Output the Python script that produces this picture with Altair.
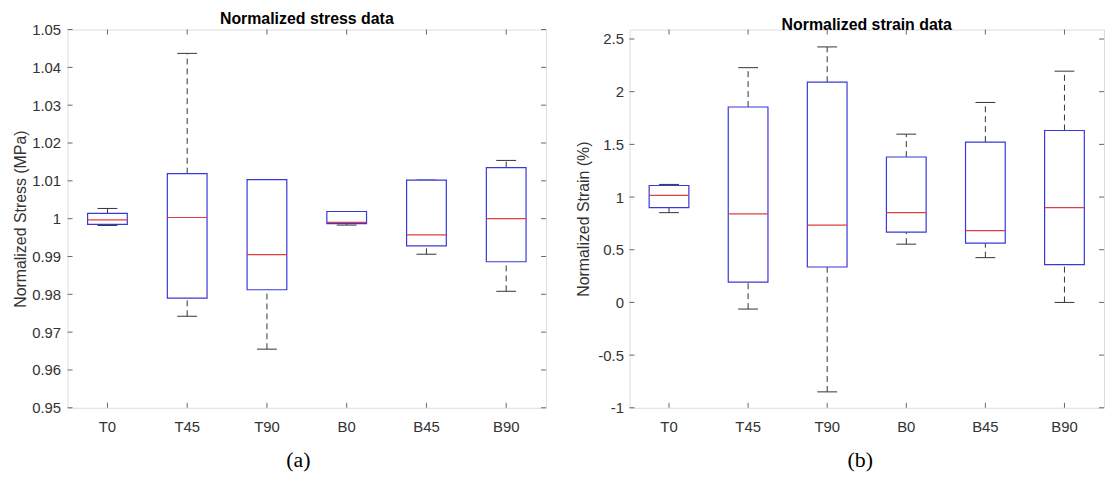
import altair as alt
import pandas as pd

categories = ["T0", "T45", "T90", "B0", "B45", "B90"]

# Normalized stress (MPa)
stress_lower = [0.9982, 0.9742, 0.9655, 0.9983, 0.9906, 0.9808]
stress_q1 = [0.9985, 0.9790, 0.9812, 0.9987, 0.9928, 0.9886]
stress_median = [0.9997, 1.0003, 0.9905, 0.9990, 0.9957, 1.0000]
stress_q3 = [1.0014, 1.0119, 1.0103, 1.0019, 1.0102, 1.0135]
stress_upper = [1.0027, 1.0437, 1.0103, 1.0019, 1.0102, 1.0154]
stress_ticks = [0.95, 0.96, 0.97, 0.98, 0.99, 1, 1.01, 1.02, 1.03, 1.04, 1.05]

# Normalized strain (%)
strain_lower = [0.852, -0.063, -0.849, 0.553, 0.425, 0.0]
strain_q1 = [0.900, 0.192, 0.336, 0.667, 0.563, 0.358]
strain_median = [1.016, 0.840, 0.733, 0.852, 0.682, 0.900]
strain_q3 = [1.110, 1.855, 2.091, 1.380, 1.522, 1.632]
strain_upper = [1.120, 2.228, 2.425, 1.597, 1.898, 2.195]
strain_ticks = [-1, -0.5, 0, 0.5, 1, 1.5, 2, 2.5]

FONT = "Liberation Sans"
TEXT = "#333333"
FRAME = "#666666"
BLUE = "#3838d8"
RED = "#e23c3c"
WHISK = "#333333"


def panel(lower, q1, med, q3, upper, ticks, domain, ytitle, title, xtitle,
          width, height, lpad, tpad):
    df = pd.DataFrame({"cat": categories, "lower": lower, "q1": q1,
                       "med": med, "q3": q3, "upper": upper})
    tdf = pd.DataFrame({"t": ticks})
    x_axis = alt.Axis(title=xtitle, labelAngle=0, ticks=False, tickSize=0,
                      domain=False, labelPadding=12, labelFont=FONT,
                      labelFontSize=15, labelColor=TEXT, titlePadding=15,
                      titleX=232, titleAlign="center",
                      titleFont="Liberation Serif", titleFontSize=22,
                      titleFontWeight="normal", titleColor="#000000")
    X = alt.X("cat:N", sort=categories,
              scale=alt.Scale(paddingInner=0, paddingOuter=0), axis=x_axis)
    ysc = alt.Scale(domain=domain, nice=False, zero=False)
    y_axis = alt.Axis(title=ytitle, values=ticks,
                      labelExpr="toString(datum.value)", ticks=False,
                      tickSize=0, domain=False, grid=False,
                      labelPadding=lpad, titlePadding=tpad, labelFont=FONT,
                      labelFontSize=15, labelColor=TEXT, titleFont=FONT,
                      titleFontSize=16, titleFontWeight="normal",
                      titleColor=TEXT)

    def Y(field):
        return alt.Y(field, type="quantitative", scale=ysc, axis=y_axis)

    base = alt.Chart(df)
    w_up = base.mark_rule(color=WHISK, strokeDash=[6, 4], strokeWidth=1).encode(
        x=X, y=Y("q3"), y2="upper")
    w_lo = base.mark_rule(color=WHISK, strokeDash=[6, 4], strokeWidth=1).encode(
        x=X, y=Y("lower"), y2="q1")
    cap_up = base.mark_tick(orient="horizontal", size=20, thickness=1,
                            color=WHISK, opacity=1).encode(x=X, y=Y("upper"))
    cap_lo = base.mark_tick(orient="horizontal", size=20, thickness=1,
                            color=WHISK, opacity=1).encode(x=X, y=Y("lower"))
    box = base.mark_bar(size=40, fill="white", stroke=BLUE, strokeWidth=1.2,
                        opacity=1).encode(x=X, y=Y("q1"), y2="q3")
    median = base.mark_tick(orient="horizontal", size=40, thickness=1.2,
                            color=RED, opacity=1).encode(x=X, y=Y("med"))

    tk_left = alt.Chart(tdf).mark_rule(color=FRAME).encode(
        y=Y("t"), x=alt.value(0), x2=alt.value(5))
    tk_right = alt.Chart(tdf).mark_rule(color=FRAME).encode(
        y=Y("t"), x=alt.value(width - 5), x2=alt.value(width))
    tk_top = base.mark_rule(color=FRAME).encode(
        x=X, y=alt.value(0), y2=alt.value(5))
    tk_bot = base.mark_rule(color=FRAME).encode(
        x=X, y=alt.value(height - 5), y2=alt.value(height))

    return alt.layer(w_up, w_lo, cap_up, cap_lo, box, median,
                     tk_left, tk_right, tk_top, tk_bot).properties(
        width=width, height=height,
        title=alt.TitleParams(title, font=FONT, fontSize=16,
                              fontWeight="bold", color="#000000", offset=-4))


left = panel(stress_lower, stress_q1, stress_median, stress_q3, stress_upper,
             stress_ticks, [0.95, 1.05], "Normalized Stress (MPa)",
             "Normalized stress data", "(a)", 482, 381, 7, 3)
right = panel(strain_lower, strain_q1, strain_median, strain_q3, strain_upper,
              strain_ticks, [-1, 2.59], "Normalized Strain (%)",
              "Normalized strain data", "(b)", 478, 381, 6, 6)

chart = alt.hconcat(left, right, spacing=84, bounds="flush").properties(
    padding={"left": 4, "top": 0, "right": 0, "bottom": 0}
).configure_view(stroke=FRAME, strokeWidth=1.2).configure(background="white")

chart.save("out.html", embed_options={"renderer": "svg", "actions": False})
